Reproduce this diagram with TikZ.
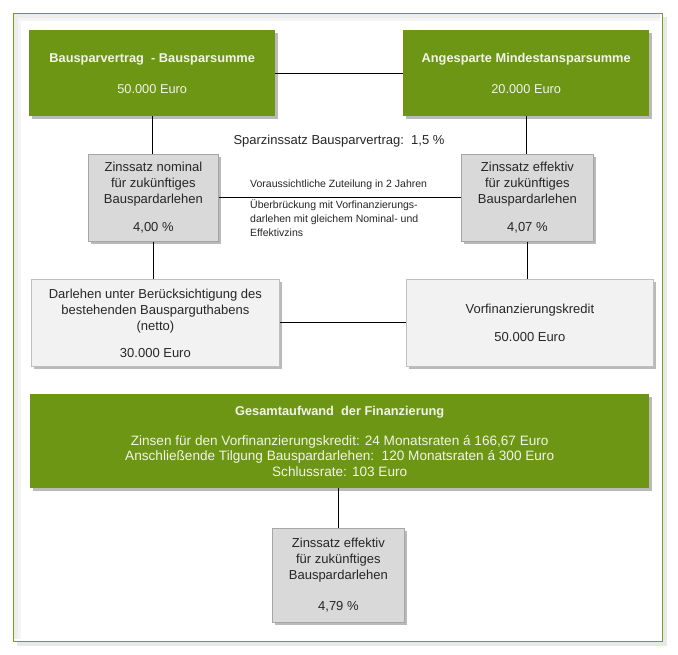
\documentclass[tikz,border=0pt]{standalone}
\usepackage{fontspec}
\setmainfont{Liberation Sans}
\usetikzlibrary{shadows,calc}
\definecolor{boxgreen}{HTML}{6C9614}
\definecolor{framegreen}{HTML}{72A01E}
\definecolor{graybox}{HTML}{D9D9D9}
\definecolor{grayline}{HTML}{A6A6A6}
\definecolor{lightbox}{HTML}{F2F2F2}
\definecolor{lightline}{HTML}{BFBFBF}
\definecolor{darktext}{HTML}{262626}
\definecolor{greentext}{HTML}{F2F4E8}
\tikzset{
  x=1pt,y=1pt,
  shade/.style={drop shadow={shadow xshift=2.5pt,shadow yshift=-2.5pt,fill=black!60,opacity=0.45}},
  greenbox/.style={shade,rectangle,fill=boxgreen,draw=none,anchor=north west,inner sep=0pt,
    text=greentext,align=center,font=\fontsize{12.8}{16}\selectfont},
  graybox/.style={shade,rectangle,fill=graybox,draw=grayline,line width=0.8pt,anchor=north west,inner sep=0pt,
    text=darktext,align=center,font=\fontsize{13}{16}\selectfont},
  lightbox/.style={shade,rectangle,fill=lightbox,draw=lightline,line width=0.8pt,anchor=north west,inner sep=0pt,
    text=darktext,align=center,font=\fontsize{13}{16}\selectfont},
  conn/.style={draw=black,line width=0.9pt},
  smalltext/.style={anchor=north west,inner sep=0pt,align=left,text=darktext,font=\fontsize{10.5}{14}\selectfont},
}
\begin{document}
\begin{tikzpicture}
\useasboundingbox (0,0) rectangle (678,-654);
% frame with soft shadow and inner glow
\fill[black!9] (17,-17) rectangle (667,-646);
\node[fill=white,draw=none,rectangle,anchor=north west,inner sep=0pt,
  minimum width=649pt,minimum height=628pt] (frame) at (13.5,-13.5) {};
\draw[black!7,line width=4pt] (16,-639) -- (16,-16) -- (660,-16);
\draw[black!4,line width=3pt] (19.5,-639) -- (19.5,-19.5) -- (660,-19.5);
\draw[framegreen,line width=1.1pt] (frame.north west) rectangle (frame.south east);

% top green boxes
\node[greenbox,minimum width=246pt,minimum height=86pt] (b1) at (29,-30)
  {\textbf{Bausparvertrag\ \ - Bausparsumme}\\[15pt]50.000 Euro};
\node[greenbox,minimum width=246pt,minimum height=86pt] (b2) at (403,-30)
  {\textbf{Angesparte\ Mindestansparsumme}\\[15pt]20.000 Euro};

% gray boxes
\node[graybox,minimum width=130pt,minimum height=87pt] (b3) at (88,-154)
  {Zinssatz nominal\\für zukünftiges\\Bauspardarlehen\\[12pt]4,00 \%};
\node[graybox,minimum width=132pt,minimum height=87pt] (b4) at (461,-154)
  {Zinssatz effektiv\\für zukünftiges\\Bauspardarlehen\\[12pt]4,07 \%};

% light boxes
\node[lightbox,minimum width=248pt,minimum height=87pt] (b5) at (31,-279)
  {Darlehen unter Berücksichtigung des\\bestehenden Bausparguthabens\\(netto)\\[11pt]30.000 Euro};
\node[lightbox,minimum width=247pt,minimum height=87pt] (b6) at (406,-279)
  {Vorfinanzierungskredit\\[12pt]50.000 Euro};

% big green box
\node[greenbox,font=\fontsize{13.6}{15.5}\selectfont,minimum width=619pt,minimum height=94pt] (b7) at (30,-394)
  {{\fontsize{12.8}{16}\selectfont\bfseries Gesamtaufwand\ \ der Finanzierung}\\[14pt]Zinsen für den Vorfinanzierungskredit: 24 Monatsraten á 166,67 Euro\\Anschließende Tilgung Bauspardarlehen:\ \ 120 Monatsraten á 300 Euro\\Schlussrate: 103 Euro};

% bottom gray box
\node[graybox,minimum width=132pt,minimum height=94pt] (b8) at (272,-528)
  {Zinssatz effektiv\\für zukünftiges\\Bauspardarlehen\\[15pt]4,79 \%};

% labels
\node[inner sep=0pt,text=darktext,font=\fontsize{13}{16}\selectfont] (spar) at (339,-141)
  {Sparzinssatz Bausparvertrag:\ \ 1,5 \%};
\node[smalltext] (zut) at (250,-180) {Voraussichtliche Zuteilung in 2 Jahren};
\node[smalltext] (ueb) at (250,-200) {Überbrückung mit Vorfinanzierungs-\\darlehen mit gleichem Nominal- und\\Effektivzins};

% connectors
\draw[conn] (b1.east) -- (b2.west);
\draw[conn] (b1.south) -- (b1.south |- b3.north);
\draw[conn] (b2.south) -- (b2.south |- b4.north);
\draw[conn] (b3.east) -- (b4.west);
\draw[conn] (b3.south) -- (b3.south |- b5.north);
\draw[conn] (b4.south) -- (b4.south |- b6.north);
\draw[conn] (b5.east) -- (b5.east -| b6.west);
\draw[conn] (b8.north |- b7.south) -- (b8.north);
\end{tikzpicture}
\end{document}
